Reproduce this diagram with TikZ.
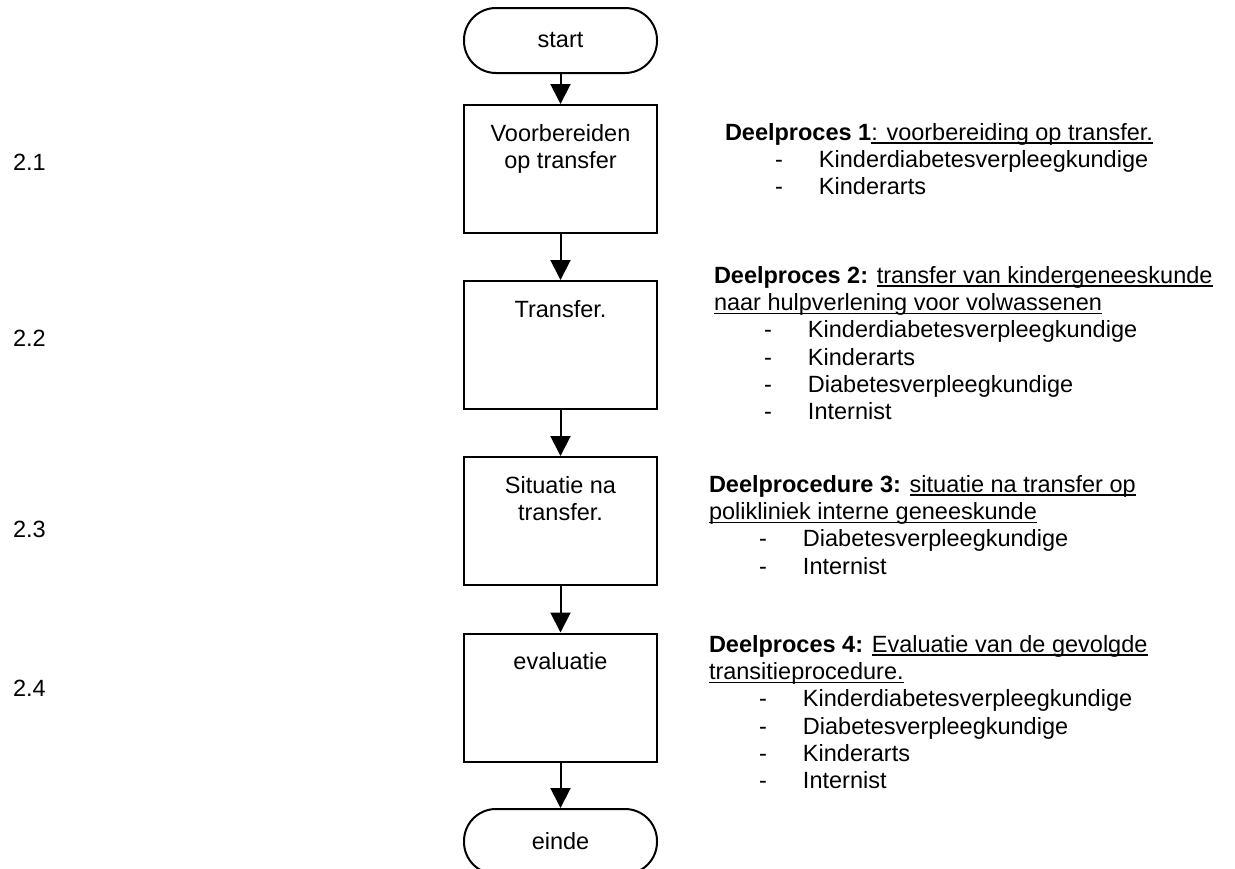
\documentclass[tikz,border=0pt]{standalone}
\usepackage{fontspec}
\setmainfont{Liberation Sans}
\usetikzlibrary{arrows.meta}
\usetikzlibrary{positioning}
\newsavebox{\ondbox}
\newcommand{\ond}[1]{\sbox{\ondbox}{#1}\rlap{\rule[-3.5pt]{\wd\ondbox}{1.4pt}}\usebox{\ondbox}}
\newcommand{\lid}[1]{\hspace*{50pt}\makebox[44pt][l]{-}#1}
\newcommand{\stap}[3]{\node[stapbox] (#1) at (560.5,#2) {}; \node[staptekst, below=17pt of #1.north] (#1t) {\strut #3};}

\begin{document}
\begin{tikzpicture}[x=1pt, y=-1pt,
        font=\fontsize{23.5}{27.3}\selectfont,
        line width=2pt,
        eind/.style={draw, rounded corners=32pt, minimum width=193pt, minimum height=65pt, inner sep=0pt},
        stapbox/.style={draw, minimum width=193pt, minimum height=128pt, inner sep=0pt},
        staptekst/.style={align=center, inner sep=0pt},
        blok/.style={anchor=north west, align=left, inner sep=0pt},
        nummer/.style={anchor=base west, inner sep=0pt},
        pijl/.style={-{Triangle[length=20pt,width=20pt]}}]
        \fill[white] (0,0) rectangle (1235,868);
        \useasboundingbox (0,0) rectangle (1235,868);
        % begin
        \node[eind] (start) at (560.5,40.5) {start};
        % stappen
        \stap{voorb}{169}{Voorbereiden\\op transfer}
        \stap{transfer}{345}{Transfer.}
        \stap{situatie}{521}{Situatie na\\transfer.}
        \stap{evaluatie}{697.5}{evaluatie}
        % einde
        \node[eind] (einde) at (560.5,841.5) {einde};
        % pijlen
        \draw[pijl] (start) -- (voorb);
        \draw[pijl] (voorb) -- (transfer);
        \draw[pijl] (transfer) -- (situatie);
        \draw[pijl] (situatie) -- (evaluatie);
        \draw[pijl] (evaluatie) -- (einde);
        % nummers links
        \node[nummer] (n1) at (12,170) {2.1};
        \node[nummer] (n2) at (12,346) {2.2};
        \node[nummer] (n3) at (12,537) {2.3};
        \node[nummer] (n4) at (12,696) {2.4};
        % deelprocessen rechts
        \node[blok] (dp1) at (724,120) {\strut{\bfseries Deelproces 1}\ond{: voorbereiding op transfer.}\\
            \lid{Kinderdiabetesverpleegkundige}\\
            \lid{Kinderarts}};
        \node[blok] (dp2) at (713,263) {\strut{\bfseries Deelproces 2:} \ond{transfer van kindergeneeskunde}\\
            \ond{naar hulpverlening voor volwassenen}\\
            \lid{Kinderdiabetesverpleegkundige}\\
            \lid{Kinderarts}\\
            \lid{Diabetesverpleegkundige}\\
            \lid{Internist}};
        \node[blok] (dp3) at (708,472) {\strut{\bfseries Deelprocedure 3:} \ond{situatie na transfer op}\\
            \ond{polikliniek interne geneeskunde}\\
            \lid{Diabetesverpleegkundige}\\
            \lid{Internist}};
        \node[blok] (dp4) at (708,632) {\strut{\bfseries Deelproces 4:} \ond{Evaluatie van de gevolgde}\\
            \ond{transitieprocedure.}\\
            \lid{Kinderdiabetesverpleegkundige}\\
            \lid{Diabetesverpleegkundige}\\
            \lid{Kinderarts}\\
            \lid{Internist}};
\end{tikzpicture}
\end{document}
